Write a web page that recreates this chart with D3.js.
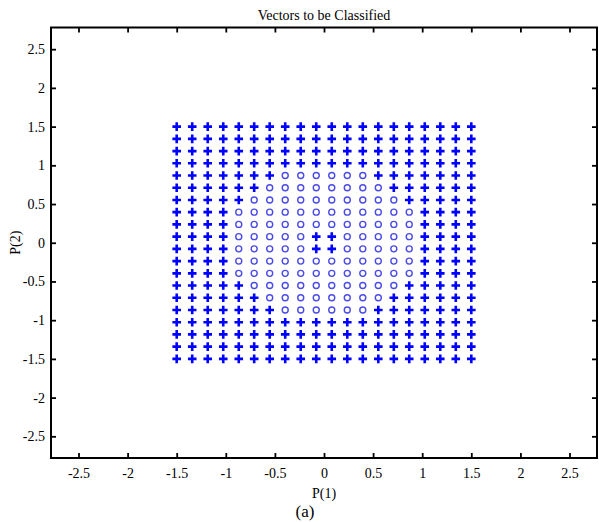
<!DOCTYPE html>
<html>
<head>
<meta charset="utf-8">
<script src="https://cdn.jsdelivr.net/npm/d3@7"></script>
<style>
  html, body { margin: 0; padding: 0; background: #fff; }
  svg { display: block; }
  text { font-family: "Liberation Serif", "Times New Roman", serif; fill: #000; }
</style>
</head>
<body>
<svg id="chart" width="599" height="522"></svg>
<script>
// ---- data ----
const title = "Vectors to be Classified";
const xLabel = "P(1)";
const yLabel = "P(2)";
const caption = "(a)";

const xTicks = [-2.5, -2, -1.5, -1, -0.5, 0, 0.5, 1, 1.5, 2, 2.5];
const xTickLabels = ["-2.5", "-2", "-1.5", "-1", "-0.5", "0", "0.5", "1", "1.5", "2", "2.5"];
const yTicks = [-2.5, -2, -1.5, -1, -0.5, 0, 0.5, 1, 1.5, 2, 2.5];
const yTickLabels = ["-2.5", "-2", "-1.5", "-1", "-0.5", "0", "0.5", "1", "1.5", "2", "2.5"];

// grid coordinates of the vectors (columns: P(1), rows: P(2), top to bottom)
const gridX = [-1.5, -1.342, -1.184, -1.026, -0.868, -0.711, -0.553, -0.395, -0.237, -0.079,
               0.079, 0.237, 0.395, 0.553, 0.711, 0.868, 1.026, 1.184, 1.342, 1.5];
const gridY = [1.5, 1.342, 1.184, 1.026, 0.868, 0.711, 0.553, 0.395, 0.237, 0.079,
               -0.079, -0.237, -0.395, -0.553, -0.711, -0.868, -1.026, -1.184, -1.342, -1.5];

// class of each vector: '+' = class 1 (plus marker), 'o' = class 2 (circle marker)
const classRows = [
  "++++++++++++++++++++",
  "++++++++++++++++++++",
  "++++++++++++++++++++",
  "++++++++++++++++++++",
  "+++++++oooooo+++++++",
  "++++++oooooooo++++++",
  "+++++oooooooooo+++++",
  "++++oooooooooooo++++",
  "++++oooooooooooo++++",
  "++++ooooo++ooooo++++",
  "++++ooooo++ooooo++++",
  "++++oooooooooooo++++",
  "++++oooooooooooo++++",
  "+++++oooooooooo+++++",
  "++++++oooooooo++++++",
  "+++++++oooooo+++++++",
  "++++++++++++++++++++",
  "++++++++++++++++++++",
  "++++++++++++++++++++",
  "++++++++++++++++++++"
];

// ---- layout ----
const svg = d3.select("#chart");
const mLeft = 51, mRight = 597, mTop = 27.5, mBottom = 458;

const x = d3.scaleLinear().domain([-2.78, 2.78]).range([mLeft, mRight]);
const y = d3.scaleLinear().domain([-2.78, 2.78]).range([mBottom, mTop]);

const fs = 14;

// points
const points = [];
classRows.forEach((row, j) => {
  row.split("").forEach((c, i) => {
    points.push({ px: gridX[i], py: gridY[j], cls: c });
  });
});

const gPts = svg.append("g");
gPts.selectAll("circle.c2")
  .data(points.filter(d => d.cls === "o"))
  .join("circle")
  .attr("class", "c2")
  .attr("cx", d => x(d.px))
  .attr("cy", d => y(d.py))
  .attr("r", 3)
  .attr("fill", "none")
  .attr("stroke", "#4a4ae8")
  .attr("stroke-width", 1.4);

const h = 4.3;
gPts.selectAll("path.c1")
  .data(points.filter(d => d.cls === "+"))
  .join("path")
  .attr("class", "c1")
  .attr("d", d => `M${x(d.px) - h},${y(d.py)}H${x(d.px) + h}M${x(d.px)},${y(d.py) - h}V${y(d.py) + h}`)
  .attr("stroke", "#0000ff")
  .attr("stroke-width", 2.6)
  .attr("fill", "none");

// axes (MATLAB style: inward ticks on all four sides)
const tl = 5;
const axB = svg.append("g").attr("transform", `translate(0,${mBottom})`)
  .call(d3.axisBottom(x).tickValues(xTicks).tickFormat((d, i) => xTickLabels[i])
        .tickSize(-tl).tickPadding(10));
const axT = svg.append("g").attr("transform", `translate(0,${mTop})`)
  .call(d3.axisTop(x).tickValues(xTicks).tickFormat("").tickSize(-tl));
const axL = svg.append("g").attr("transform", `translate(${mLeft},0)`)
  .call(d3.axisLeft(y).tickValues(yTicks).tickFormat((d, i) => yTickLabels[i])
        .tickSize(-tl).tickPadding(6));
const axR = svg.append("g").attr("transform", `translate(${mRight},0)`)
  .call(d3.axisRight(y).tickValues(yTicks).tickFormat("").tickSize(-tl));

[axB, axT, axL, axR].forEach(a => {
  a.select(".domain").remove();
  a.selectAll(".tick line").attr("stroke", "#000").attr("stroke-width", 1.8);
  a.selectAll(".tick text").attr("font-size", fs)
    .attr("font-family", '"Liberation Serif", "Times New Roman", serif').attr("fill", "#000");
});

// frame
svg.append("rect")
  .attr("x", mLeft).attr("y", mTop)
  .attr("width", mRight - mLeft).attr("height", mBottom - mTop)
  .attr("fill", "none").attr("stroke", "#000").attr("stroke-width", 2);

// title & labels
svg.append("text").attr("x", (mLeft + mRight) / 2).attr("y", 20)
  .attr("text-anchor", "middle").attr("font-size", fs).text(title);
svg.append("text").attr("x", (mLeft + mRight) / 2).attr("y", 498)
  .attr("text-anchor", "middle").attr("font-size", fs).text(xLabel);
svg.append("text")
  .attr("transform", `translate(20,${(mTop + mBottom) / 2}) rotate(-90)`)
  .attr("text-anchor", "middle").attr("font-size", fs).text(yLabel);
svg.append("text").attr("x", 305).attr("y", 517)
  .attr("text-anchor", "middle").attr("font-size", 17).text(caption);
</script>
</body>
</html>
